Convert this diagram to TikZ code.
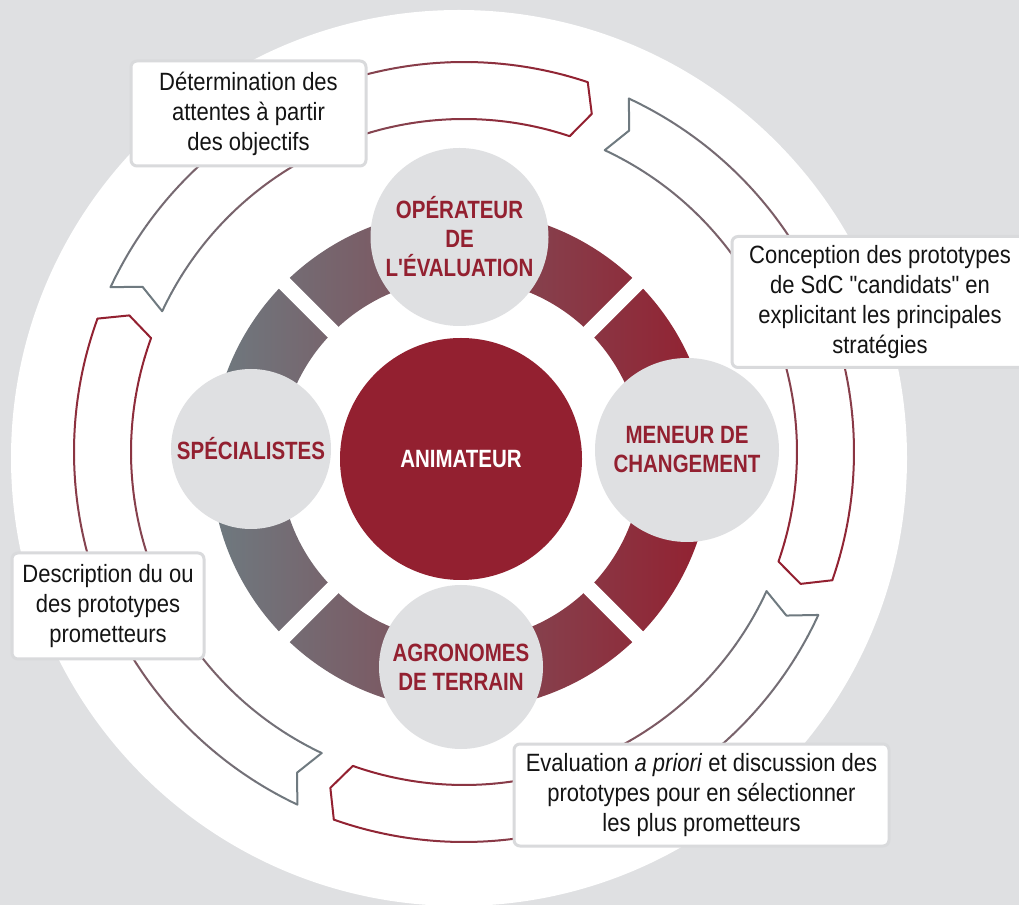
\documentclass[tikz,border=0pt]{standalone}
\usepackage{fontspec}
\setmainfont{Liberation Sans}[FakeStretch=0.88,Ligatures=TeXOff]
\newfontfamily\labfont{Liberation Sans}[FakeStretch=0.82,Ligatures=TeXOff]
\usetikzlibrary{calc}
\definecolor{bggrey}{HTML}{DFE0E2}
\definecolor{satgrey}{HTML}{DFE0E2}
\definecolor{crimson}{HTML}{932030}
\definecolor{ringgrey}{HTML}{6E7A80}
\definecolor{ringmid}{HTML}{885660}
\definecolor{arrgrey}{HTML}{6F7A80}
\definecolor{boxline}{HTML}{D9DADC}
\definecolor{ink}{HTML}{141414}
\tikzset{
  arrowline/.style={line width=2pt, line cap=round, line join=round},
  textbox/.style={draw=boxline, line width=3pt, fill=white, rounded corners=6pt,
    inner sep=0pt, align=center, text=ink, font=\fontsize{25}{30}\selectfont},
  sat/.style={circle, fill=satgrey, inner sep=0pt, align=center, text=crimson,
    font=\labfont\bfseries\fontsize{25}{29}\selectfont},
  anim/.style={circle, fill=crimson, inner sep=0pt, minimum size=242pt, text=white,
    font=\labfont\bfseries\fontsize{25}{29}\selectfont}
}
% #1 tail angle, #2 head angle (clockwise travel: #1 > #2)
\newcommand\cyclearrow[2]{%
  \foreach \i in {0,...,23}{%
    \pgfmathsetmacro\sa{(#1)-((#1)-(#2))*\i/24}%
    \pgfmathsetmacro\ea{(#1)-((#1)-(#2))*(\i+1)/24}%
    \pgfmathsetmacro\pc{100*(\i+0.5)/24}%
    \draw[arrowline, draw=crimson!\pc!arrgrey] (\sa:390) arc[start angle=\sa, end angle=\ea, radius=390pt];
    \draw[arrowline, draw=crimson!\pc!arrgrey] (\sa:333) arc[start angle=\sa, end angle=\ea, radius=333pt];
  }%
  \draw[arrowline, draw=arrgrey] ({#1}:390) -- ({(#1)-2.2}:361.5) -- ({#1}:333);
  \draw[arrowline, draw=crimson] ({#2}:390) -- ({(#2)-2.2}:361.5) -- ({#2}:333);
}
\begin{document}
\begin{tikzpicture}[x=1pt,y=1pt]
\useasboundingbox (0,0) rectangle (1019,905);
\clip (0,0) rectangle (1019,905);
\fill[bggrey] (0,0) rectangle (1019,905);
% big white disc
\fill[white] (459,447) circle[radius=448pt];

% cycle arrows
\begin{scope}[shift={(464,453)}]
  \cyclearrow{155}{71.5}
  \cyclearrow{65}{-19.2}
  \cyclearrow{-24.7}{-109.5}
  \cyclearrow{-115.3}{-200}
\end{scope}

% text boxes
\node[textbox, minimum width=235pt, minimum height=105pt] (det) at (248.5,791.5)
  {Détermination des\\attentes à partir\\des objectifs};
\node[textbox, minimum width=296pt, minimum height=131pt] (conc) at (880,603)
  {Conception des prototypes\\de SdC "candidats" en\\explicitant les principales\\stratégies};
\node[textbox, minimum width=192pt, minimum height=106pt] (desc) at (108,299)
  {Description du ou\\des prototypes\\prometteurs};
\node[textbox, minimum width=375pt, minimum height=102pt] (eval) at (701.5,110)
  {Evaluation \textit{a priori} et discussion des\\prototypes pour en sélectionner\\les plus prometteurs};

% gradient ring
\path[even odd rule, left color=ringgrey, middle color=ringmid, right color=crimson]
  (461,445) circle[radius=250pt] (461,445) circle[radius=181pt];
\begin{scope}[shift={(461,445)}]
  \foreach \ang in {45,135,225,315}{
    \fill[white, rotate=\ang] (170,-7.5) rectangle (262,7.5);
  }
\end{scope}

% role circles
\node[sat, minimum size=178pt] (oper) at (459.5,668) {OPÉRATEUR\\DE\\L'ÉVALUATION};
\node[sat, minimum size=184pt] (men) at (687,455) {MENEUR DE\\CHANGEMENT};
\node[sat, minimum size=160pt] (spec) at (251,456) {SPÉCIALISTES};
\node[sat, minimum size=164pt] (agro) at (461,238) {AGRONOMES\\DE TERRAIN};
\node[anim] (anim) at (461,446) {ANIMATEUR};
\end{tikzpicture}
\end{document}
